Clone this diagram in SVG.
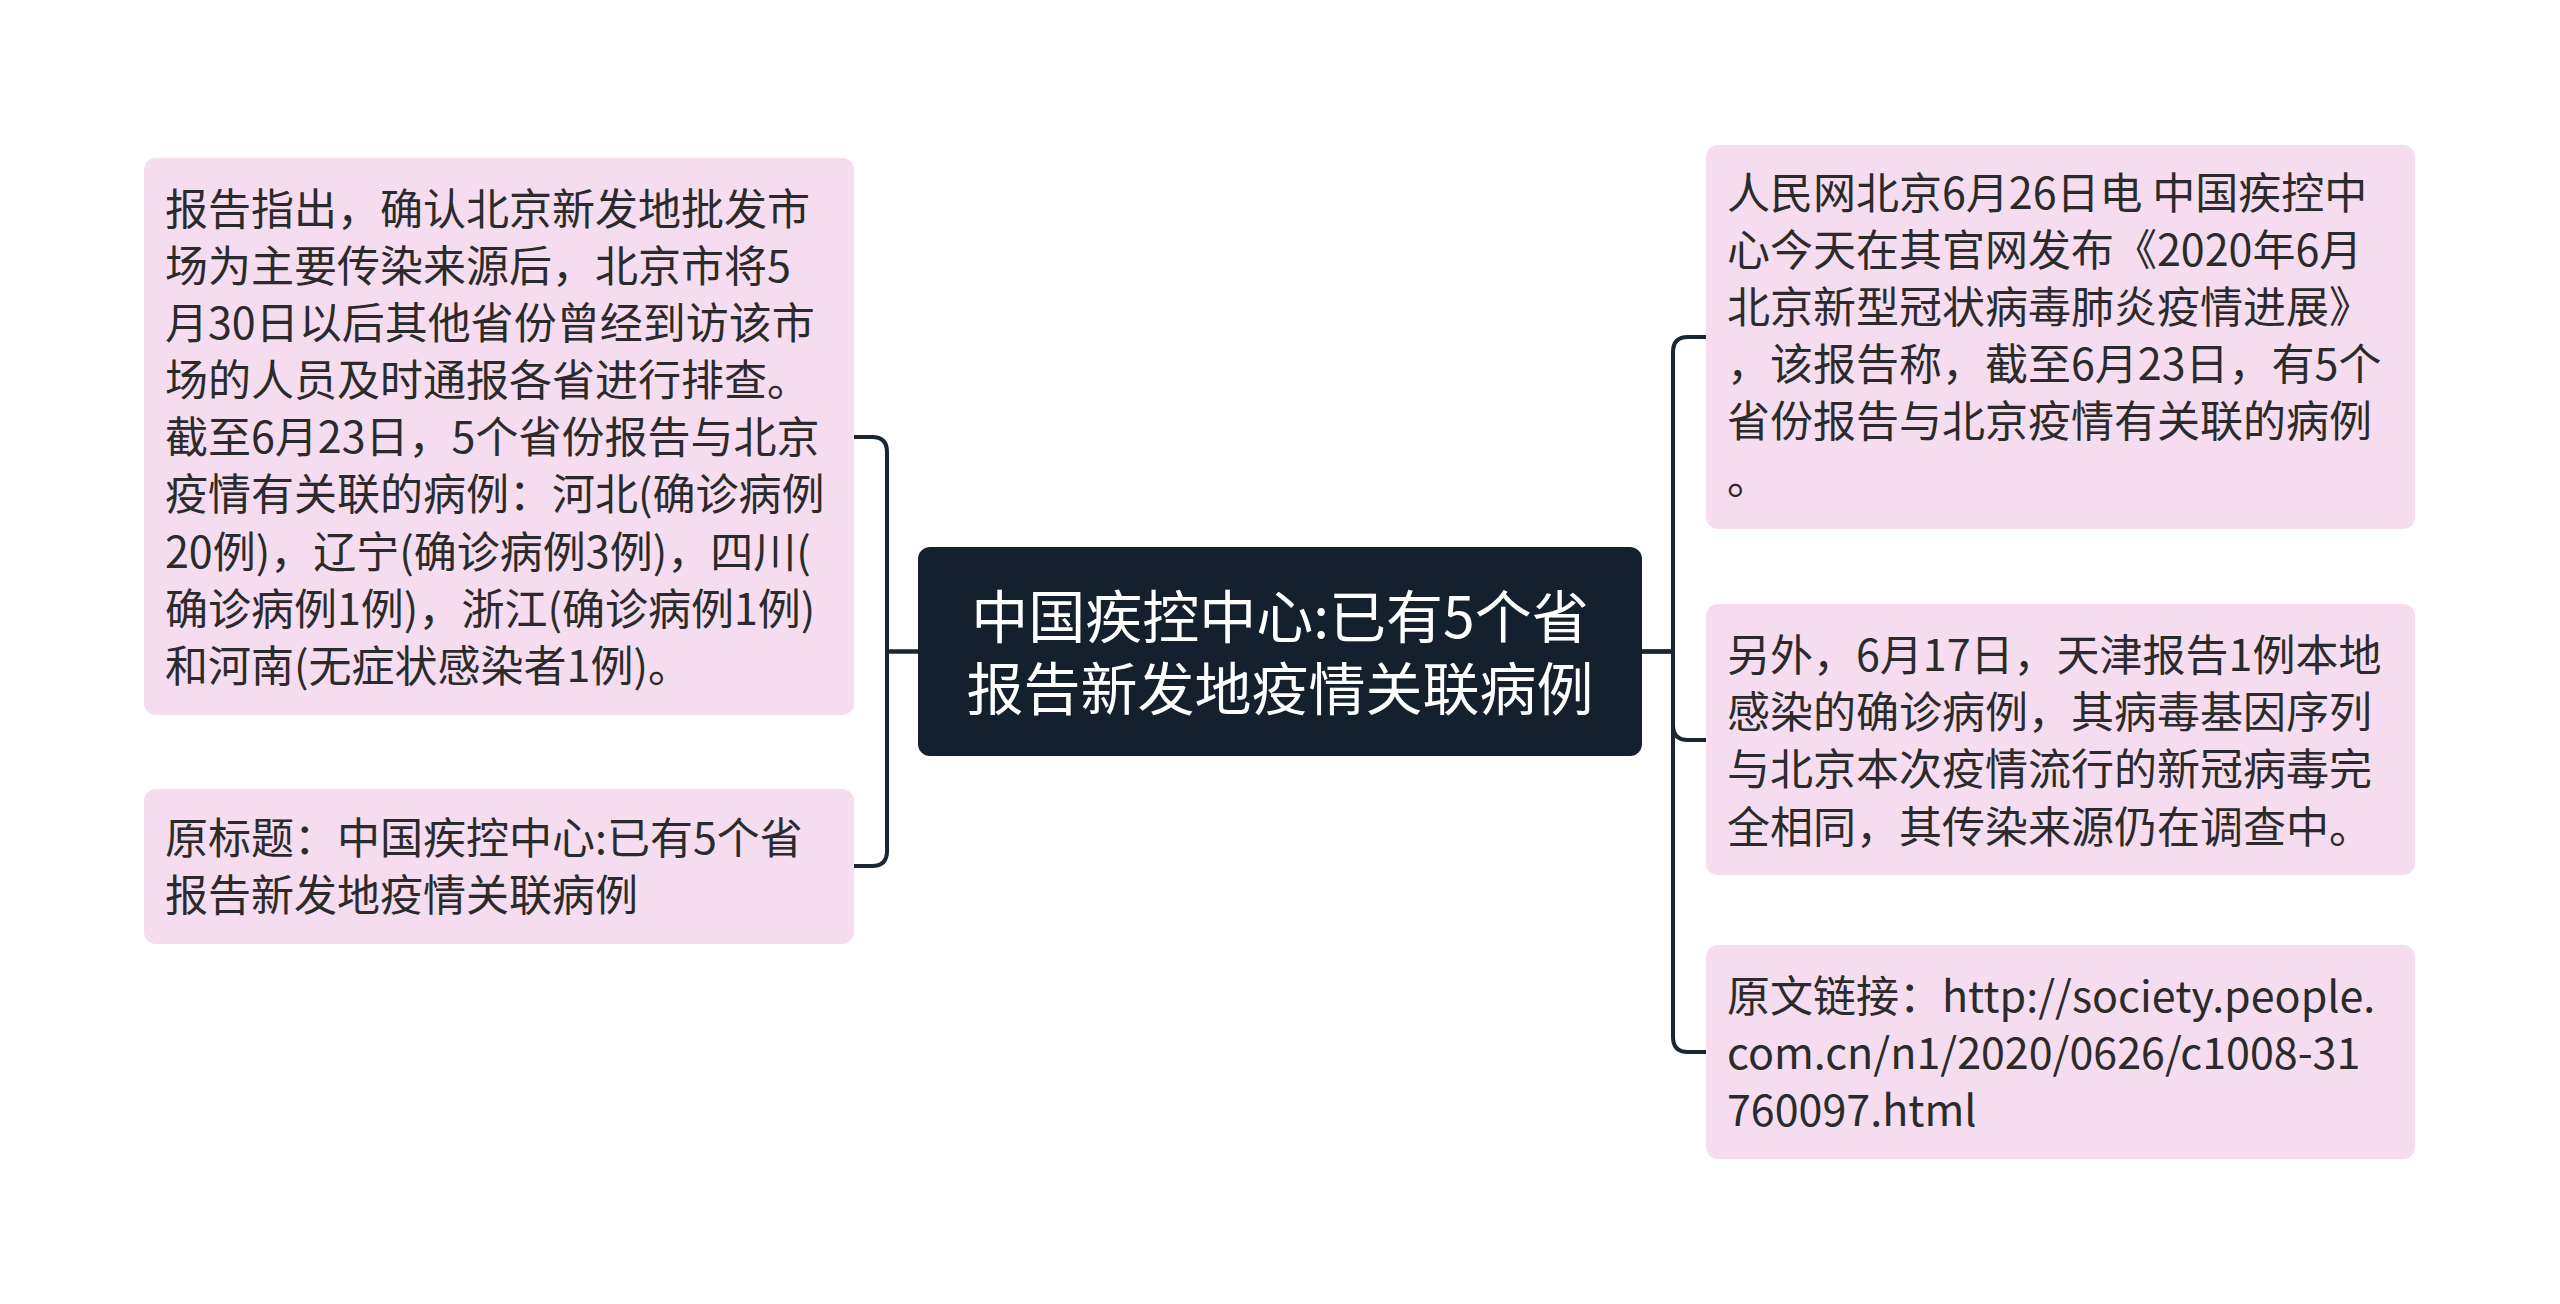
<svg xmlns="http://www.w3.org/2000/svg" width="2560" height="1304" viewBox="0 0 2560 1304">
<style>
.bg{fill:#ffffff}
.leaf{fill:#f5dcef}
.root{fill:#15202e}
.t{font-family:"Microsoft YaHei","Noto Sans CJK SC","Noto Sans",sans-serif;font-size:43px;fill:#2b2b2b}
.rt{font-family:"Microsoft YaHei","Noto Sans CJK SC","Noto Sans",sans-serif;font-size:57px;fill:#ffffff;text-anchor:middle}
.c{fill:none;stroke:#1b2633;stroke-width:4;stroke-linecap:round;stroke-linejoin:round}
</style>
<rect class="bg" x="0" y="0" width="2560" height="1304"/>
<g id="connectors">
<path class="c" d="M918,651.5 H887 V452 Q887,437 872,437 H854"/>
<path class="c" d="M918,651.5 H887 V851 Q887,866 872,866 H854"/>
<path class="c" d="M1642,651.5 H1673 V352 Q1673,337 1688,337 H1706"/>
<path class="c" d="M1642,651.5 H1673 V725 Q1673,740 1688,740 H1706"/>
<path class="c" d="M1642,651.5 H1673 V1037 Q1673,1052 1688,1052 H1706"/>
</g>
<g id="root">
<rect class="root" x="918" y="547" width="724" height="209" rx="12"/>
<text class="rt" x="1280" y="638">中国疾控中心:已有5个省</text>
<text class="rt" x="1280" y="710">报告新发地疫情关联病例</text>
</g>
<g id="left1">
<rect class="leaf" x="144" y="158" width="710" height="557" rx="12"/>
<text class="t" x="165" y="225">报告指出，确认北京新发地批发市</text>
<text class="t" x="165" y="282">场为主要传染来源后，北京市将5</text>
<text class="t" x="165" y="339">月30日以后其他省份曾经到访该市</text>
<text class="t" x="165" y="396">场的人员及时通报各省进行排查。</text>
<text class="t" x="165" y="453">截至6月23日，5个省份报告与北京</text>
<text class="t" x="165" y="510">疫情有关联的病例：河北(确诊病例</text>
<text class="t" x="165" y="568">20例)，辽宁(确诊病例3例)，四川(</text>
<text class="t" x="165" y="625">确诊病例1例)，浙江(确诊病例1例)</text>
<text class="t" x="165" y="682">和河南(无症状感染者1例)。</text>
</g>
<g id="left2">
<rect class="leaf" x="144" y="789" width="710" height="155" rx="12"/>
<text class="t" x="165" y="854">原标题：中国疾控中心:已有5个省</text>
<text class="t" x="165" y="911">报告新发地疫情关联病例</text>
</g>
<g id="right1">
<rect class="leaf" x="1706" y="145" width="709" height="384" rx="12"/>
<text class="t" x="1727" y="209">人民网北京6月26日电 中国疾控中</text>
<text class="t" x="1727" y="266">心今天在其官网发布《2020年6月</text>
<text class="t" x="1727" y="323">北京新型冠状病毒肺炎疫情进展》</text>
<text class="t" x="1727" y="380">，该报告称，截至6月23日，有5个</text>
<text class="t" x="1727" y="437">省份报告与北京疫情有关联的病例</text>
<text class="t" x="1727" y="494">。</text>
</g>
<g id="right2">
<rect class="leaf" x="1706" y="604" width="709" height="271" rx="12"/>
<text class="t" x="1727" y="671">另外，6月17日，天津报告1例本地</text>
<text class="t" x="1727" y="728">感染的确诊病例，其病毒基因序列</text>
<text class="t" x="1727" y="785">与北京本次疫情流行的新冠病毒完</text>
<text class="t" x="1727" y="843">全相同，其传染来源仍在调查中。</text>
</g>
<g id="right3">
<rect class="leaf" x="1706" y="945" width="709" height="214" rx="12"/>
<text class="t" x="1727" y="1012">原文链接：http://society.people.</text>
<text class="t" x="1727" y="1069">com.cn/n1/2020/0626/c1008-31</text>
<text class="t" x="1727" y="1126">760097.html</text>
</g>
</svg>
